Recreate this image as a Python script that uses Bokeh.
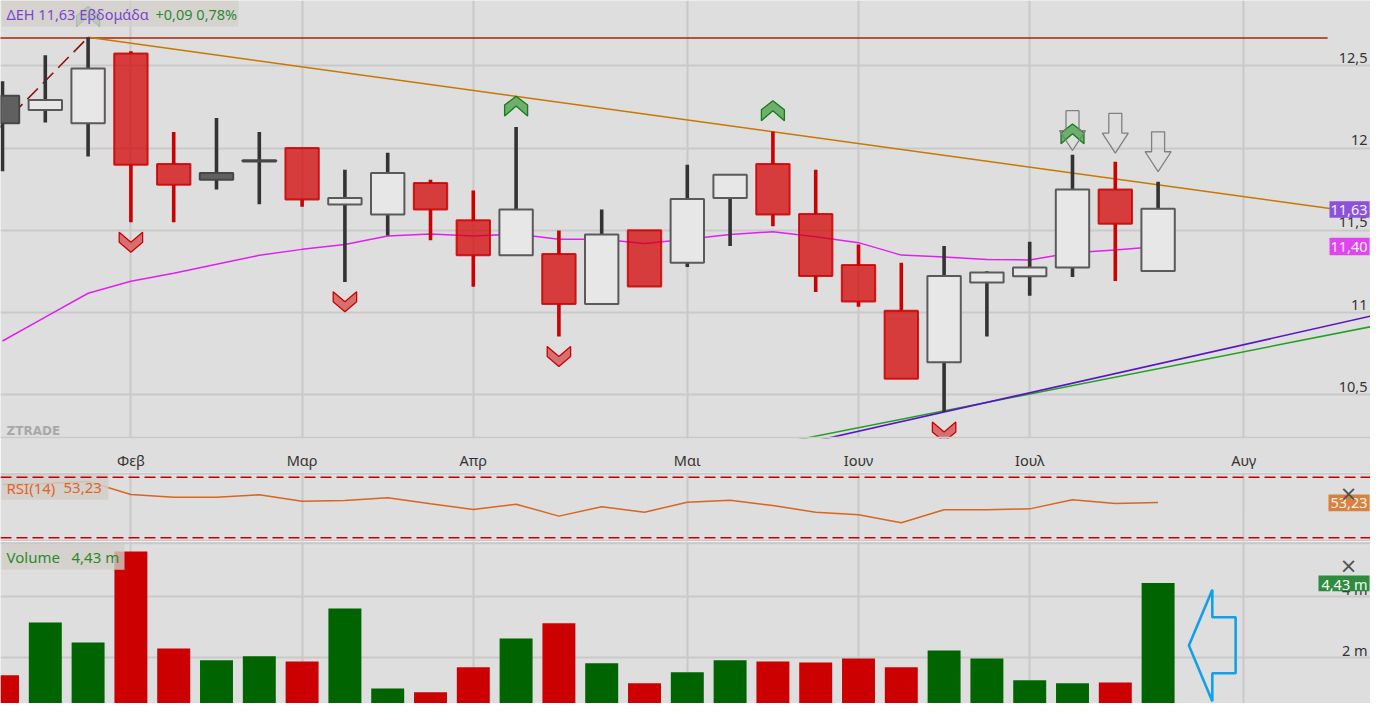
from bokeh.plotting import figure
from bokeh.layouts import column
from bokeh.models import Range1d, FixedTicker, Span
from bokeh.core.properties import value
from bokeh.embed import file_html
from bokeh.resources import INLINE

# ---------------- data ----------------
weeks = list(range(28))
opens = [12.318, 12.231, 12.151, 12.575, 11.902, 11.848, 11.926, 12.000, 11.656, 11.595,
         11.787, 11.561, 11.347, 11.355, 11.050, 11.500, 11.302, 11.696, 11.902, 11.599,
         11.288, 11.009, 10.696, 11.181, 11.219, 11.272, 11.747, 11.252]
highs = [12.407, 12.565, 12.674, 12.589, 12.098, 12.183, 12.098, 12.000, 11.868, 11.971,
         11.807, 11.741, 12.128, 11.498, 11.625, 11.500, 11.898, 11.838, 12.100, 11.868,
         11.413, 11.302, 11.403, 11.250, 11.430, 11.959, 11.916, 11.795]
lows = [11.858, 12.155, 11.948, 11.548, 11.548, 11.747, 11.658, 11.642, 11.185, 11.468,
        11.439, 11.155, 11.347, 10.852, 11.050, 11.157, 11.276, 11.403, 11.524, 11.124,
        11.033, 10.595, 10.393, 10.852, 11.100, 11.215, 11.191, 11.252]
closes = [12.151, 12.292, 12.484, 11.898, 11.777, 11.807, 11.918, 11.686, 11.696, 11.848,
          11.625, 11.347, 11.625, 11.050, 11.474, 11.157, 11.690, 11.838, 11.595, 11.221,
          11.066, 10.595, 11.221, 11.242, 11.272, 11.747, 11.539, 11.630]
candle_kind = ["dk", "up", "up", "dn", "dn", "dk", "dk", "dn", "up", "up", "dn", "dn", "up", "dn",
               "up", "dn", "up", "up", "dn", "dn", "dn", "dn", "up", "up", "up", "up", "dn", "up"]
ma_values = [10.825, 10.970, 11.116, 11.189, 11.238, 11.292, 11.347, 11.383, 11.413, 11.464,
             11.476, 11.464, 11.476, 11.444, 11.444, 11.419, 11.444, 11.474, 11.490, 11.460,
             11.424, 11.348, 11.336, 11.322, 11.318, 11.363, 11.379, 11.400]
rsi_values = [65.2, 65.8, 67.2, 58.6, 56.8, 56.8, 58.4, 54.2, 54.6, 56.4, 52.4, 48.7, 52.2, 44.3,
              50.5, 46.9, 53.5, 54.8, 51.3, 46.9, 45.2, 39.9, 48.5, 48.5, 49.1, 55.1, 52.6, 53.23]
volume_m = [1.43, 3.15, 2.50, 5.45, 2.30, 1.92, 2.05, 1.88, 3.60, 1.00, 0.88, 1.69, 2.63, 3.12,
            1.82, 1.17, 1.53, 1.92, 1.88, 1.85, 1.98, 1.69, 2.24, 1.98, 1.27, 1.17, 1.20, 4.43]
volume_dir = ["dn", "up", "up", "dn", "dn", "up", "up", "dn", "up", "up", "dn", "dn", "up", "dn",
              "up", "dn", "up", "up", "dn", "dn", "dn", "dn", "up", "up", "up", "up", "dn", "up"]

month_ticks = [3, 7, 11, 16, 20, 24, 29]
month_labels = ["Φεβ", "Μαρ", "Απρ", "Μαι", "Ιουν", "Ιουλ", "Αυγ"]
price_ticks = [10.5, 11.0, 11.5, 12.0, 12.5]
price_tick_labels = ["10,5", "11", "11,5", "12", "12,5"]
vol_ticks = [2, 4]
vol_tick_labels = ["2 m", "4 m"]
rsi_bands = [70, 30]

up_signal_idx = [2, 12, 18, 25]
down_signal_idx = [3, 8, 13, 22]
sell_arrow_idx = [25, 26, 27]
sell_arrow_level = [11.985, 11.969, 11.856]

resistance_level = 12.67
resistance_x = [-1.0, 30.96]
downtrend_x = [2, 33]
downtrend_y = [12.674, 11.561]
dash_trend_x = [-0.5, 2]
dash_trend_y = [12.011, 12.674]
support1_x = [17, 33]            # purple
support1_y = [10.100, 11.037]
support2_x = [17, 33]            # green
support2_y = [10.143, 10.965]
volume_arrow_tip = (27.72, 2.40)

title_main = "ΔΕΗ 11,63 Εβδομάδα"
title_change = "+0,09 0,78%"
last_close_label = "11,63"
ma_label = "11,40"
rsi_label = "RSI(14)"
rsi_last = "53,23"
vol_label = "Volume"
vol_last = "4,43 m"

# ---------------- layout calibration (page pixels) ----------------
PX_X = 42.8          # px per week
X0 = 2.0             # x of week 0
PX_P = 165.0         # px per price unit
P_REF_Y = 65.7       # y of price 12.5
PX_R = 1.515         # px per RSI point
PX_V = 30.8          # px per million
RS = 14              # right-side shift so labels fit in 1370 px


def ix(px):
    return (px - X0) / PX_X


def py(pyx):
    return 12.5 - (pyx - P_REF_Y) / PX_P


def ry(pyx):
    return 70 - (pyx - 476.7) / PX_R


def vy(pyx):
    return (718.9 - pyx) / PX_V


W = 1370
BG = "#dedede"
GRID = "#c9c9c9"
FONT = value("Noto Sans")
xr = Range1d(ix(0), ix(W))


def base_fig(height, yr, bottom=0):
    f = figure(width=W, height=height, x_range=xr, y_range=yr, output_backend="svg",
               toolbar_location=None, x_axis_location=("below" if bottom else None),
               y_axis_location=None, min_border_left=0, min_border_right=0,
               min_border_top=0, min_border_bottom=bottom)
    f.background_fill_color = BG
    f.border_fill_color = BG
    f.outline_line_color = None
    f.xgrid.ticker = FixedTicker(ticks=month_ticks)
    f.xgrid.grid_line_color = GRID
    f.xgrid.grid_line_width = 2
    return f


# ================= price pane =================
p = base_fig(472, Range1d(py(440), py(0)), bottom=32)
p.ygrid.ticker = FixedTicker(ticks=price_ticks)
p.ygrid.grid_line_color = GRID
p.ygrid.grid_line_width = 2
p.add_layout(Span(location=py(439.3), dimension="width", line_color=GRID, line_width=2))

ax = p.xaxis[0]
ax.ticker = FixedTicker(ticks=month_ticks)
ax.major_label_overrides = {float(t): l for t, l in zip(month_ticks, month_labels)}
ax.axis_line_color = None
ax.major_tick_line_color = None
ax.minor_tick_line_color = None
ax.major_tick_out = 0
ax.major_label_standoff = 11
ax.major_label_text_font = "Noto Sans"
ax.major_label_text_font_size = "14.5px"
ax.major_label_text_color = "#333333"

# watermark
p.text(x=[ix(6)], y=[py(432)], text=["ZTRADE"], text_font=value("DejaVu Sans"),
       text_font_size=value("12px"), text_font_style="bold", text_color="#a8a8a8",
       text_align="left", text_baseline="middle")

# price tick labels (inside the pane, right side)
p.text(x=[ix(1381 - RS)] * len(price_ticks), y=[t + 7.7 / PX_P for t in price_ticks],
       text=price_tick_labels, text_font=FONT, text_font_size=value("14.5px"),
       text_color="#333333", text_align="right", text_baseline="middle")

# trend lines
p.line(resistance_x, [resistance_level, resistance_level], line_color="#a82400", line_width=1.5)
p.line(downtrend_x, downtrend_y, line_color="#c87800", line_width=1.5)
p.line(dash_trend_x, dash_trend_y, line_color="#8b1010", line_width=1.6, line_dash="15 7")
p.line(support2_x, support2_y, line_color="#22a022", line_width=1.5)
p.line(support1_x, support1_y, line_color="#5a14c8", line_width=1.6)

# moving average
p.line(weeks, ma_values, line_color="#e020f0", line_width=1.5)

# candles: wicks only outside the body, then bodies
style = {"up": ("#e7e7e7", 1.0, "#5a5a5a", 1.0, "#333333"),
         "dk": ("#606060", 1.0, "#474747", 1.0, "#333333"),
         "dn": ("#d30000", 0.73, "#cc0000", 0.85, "#cc0000")}
for kind in ("up", "dk", "dn"):
    sel = [i for i in weeks if candle_kind[i] == kind]
    fc, fa, lc, la, wc = style[kind]
    tops = [max(opens[i], closes[i]) for i in sel]
    bots = [min(opens[i], closes[i]) for i in sel]
    p.segment(x0=sel + sel, x1=sel + sel,
              y0=[highs[i] for i in sel] + [lows[i] for i in sel],
              y1=tops + bots, line_color=wc, line_width=3.6)
    p.vbar(x=sel, width=0.78, top=tops, bottom=bots, fill_color=fc, fill_alpha=fa,
           line_color=lc, line_alpha=la, line_width=2)

# signal markers
up_pts = [(0, 20), (11.5, 11), (11.5, 0), (0, 10), (-11.5, 0), (-11.5, 11)]
xs, ys = [], []
for i in up_signal_idx:
    b = highs[i] + 11 / PX_P
    xs.append([i + dx / PX_X for dx, dy in up_pts])
    ys.append([b + dy / PX_P for dx, dy in up_pts])
p.patches(xs, ys, fill_color="#6cb06c", line_color="#167a16", line_width=1.3)

dn_pts = [(-11.7, 0), (0, -10), (11.7, 0), (11.7, -10), (0, -20), (-11.7, -10)]
xs, ys = [], []
for i in down_signal_idx:
    t = lows[i] - 10 / PX_P
    xs.append([i + dx / PX_X for dx, dy in dn_pts])
    ys.append([t + dy / PX_P for dx, dy in dn_pts])
p.patches(xs, ys, fill_color="#d67070", line_color="#cc0000", line_width=1.3)

arr_pts = [(-6.5, 40), (6.5, 40), (6.5, 20), (13, 20), (0, 0), (-13, 20), (-6.5, 20)]
xs, ys = [], []
for i, lvl in zip(sell_arrow_idx, sell_arrow_level):
    xs.append([i + dx / PX_X for dx, dy in arr_pts])
    ys.append([lvl + dy / PX_P for dx, dy in arr_pts])
p.patches(xs, ys, fill_color=None, line_color="#808080", line_width=1.3)

# title box
p.quad(left=[ix(1)], right=[ix(238)], top=[py(0)], bottom=[py(26)],
       fill_color="#d3cfcb", fill_alpha=0.8, line_color=None)
p.text(x=[ix(6)], y=[py(13.5)], text=[title_main], text_font=FONT,
       text_font_size=value("14.5px"), text_color="#7b45d3", text_align="left",
       text_baseline="middle")
p.text(x=[ix(155)], y=[py(13.5)], text=[title_change], text_font=FONT,
       text_font_size=value("14.5px"), text_color="#2a8a35", text_align="left",
       text_baseline="middle")

# right badges
p.quad(left=[ix(1343 - RS), ix(1343 - RS)], right=[ix(1383 - RS), ix(1383 - RS)],
       top=[py(201.7), py(238.3)], bottom=[py(218.3), py(256)],
       fill_color=["#8c52d9", "#e044ee"], line_color=None)
p.text(x=[ix(1381 - RS), ix(1381 - RS)], y=[py(210), py(247.2)],
       text=[last_close_label, ma_label], text_font=FONT, text_font_size=value("14.5px"),
       text_color="#f6f0ff", text_align="right", text_baseline="middle")

# ================= RSI pane =================
r = base_fig(69, Range1d(ry(541), ry(472)))
r.ygrid.visible = False
for lvl in rsi_bands:
    r.add_layout(Span(location=lvl, dimension="width", line_color="#c40000",
                      line_width=1.5, line_dash="11 5"))
r.add_layout(Span(location=ry(473), dimension="width", line_color=GRID, line_width=2))
r.add_layout(Span(location=ry(540.2), dimension="width", line_color=GRID, line_width=2))
r.line(weeks, rsi_values, line_color="#d9651e", line_width=1.5)
r.quad(left=[ix(1)], right=[ix(108)], top=[ry(473.3)], bottom=[ry(499.3)],
       fill_color="#d2cec9", fill_alpha=0.85, line_color=None)
r.text(x=[ix(6), ix(63)], y=[ry(487.3), ry(487.3)], text=[rsi_label, rsi_last],
       text_font=FONT, text_font_size=value("15px"), text_color="#e0642a",
       text_align="left", text_baseline="middle")
r.quad(left=[ix(1342 - RS)], right=[ix(1383 - RS)], top=[ry(494)], bottom=[ry(510.7)],
       fill_color="#d8803f", line_color=None)
r.text(x=[ix(1381 - RS)], y=[ry(502.5)], text=[rsi_last], text_font=FONT,
       text_font_size=value("14.5px"), text_color="#fbf1e8", text_align="right",
       text_baseline="middle")
r.text(x=[ix(1362 - RS)], y=[ry(493)], text=["×"], text_font=value("DejaVu Sans"),
       text_font_size=value("21px"), text_color="#505050", text_align="center",
       text_baseline="middle")

# ================= volume pane =================
v = base_fig(162, Range1d(vy(703), vy(541)))
v.ygrid.ticker = FixedTicker(ticks=vol_ticks)
v.ygrid.grid_line_color = GRID
v.ygrid.grid_line_width = 2
v.add_layout(Span(location=vy(542.7), dimension="width", line_color=GRID, line_width=2))
vcol = {"up": "#006400", "dn": "#cc0000"}
v.vbar(x=weeks, width=0.77, top=volume_m, bottom=0,
       fill_color=[vcol[d] for d in volume_dir], line_color=None)
v.text(x=[ix(1381 - RS)] * len(vol_ticks), y=[t + 7.5 / PX_V for t in vol_ticks],
       text=vol_tick_labels, text_font=FONT, text_font_size=value("14.5px"),
       text_color="#333333", text_align="right", text_baseline="middle")
ax_pts = [(0, 0), (23.4, 55.7), (23.4, 28.3), (46.7, 28.3), (46.7, -27.7), (23.4, -27.7),
          (23.4, -55.7)]
v.patch([volume_arrow_tip[0] + dx / PX_X for dx, dy in ax_pts],
        [volume_arrow_tip[1] + dy / PX_V for dx, dy in ax_pts],
        fill_color=None, line_color="#12a0e6", line_width=2.6)
v.quad(left=[ix(1)], right=[ix(124)], top=[vy(543.3)], bottom=[vy(569.3)],
       fill_color="#d2cec9", fill_alpha=0.8, line_color=None)
v.text(x=[ix(6), ix(71)], y=[vy(556.7), vy(556.7)], text=[vol_label, vol_last],
       text_font=FONT, text_font_size=value("15px"), text_color="#2a8a2a",
       text_align="left", text_baseline="middle")
v.quad(left=[ix(1332 - RS)], right=[ix(1383 - RS)], top=[vy(575)], bottom=[vy(590.7)],
       fill_color="#2e8b40", line_color=None)
v.text(x=[ix(1381 - RS)], y=[vy(583)], text=[vol_last], text_font=FONT,
       text_font_size=value("14.5px"), text_color="#f2fff2", text_align="right",
       text_baseline="middle")
v.text(x=[ix(1362 - RS)], y=[vy(565)], text=["×"], text_font=value("DejaVu Sans"),
       text_font_size=value("21px"), text_color="#505050", text_align="center",
       text_baseline="middle")

layout = column(p, r, v, spacing=0)
open("out.html", "w").write(file_html(layout, INLINE))
